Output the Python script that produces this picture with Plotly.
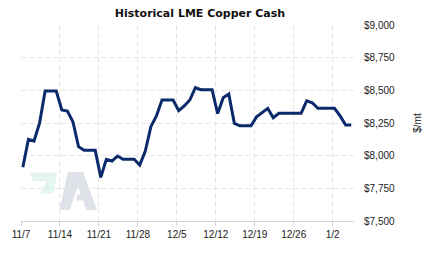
import pandas as pd
import plotly.graph_objects as go

start_date = "2022-11-07"
prices = [7911, 8125, 8112, 8248, 8495, 8495, 8495, 8350, 8342, 8260,
          8069, 8041, 8041, 8041, 7834, 7972, 7959, 7997, 7972, 7972,
          7972, 7928, 8036, 8222, 8304, 8426, 8426, 8426, 8344, 8380,
          8426, 8520, 8505, 8505, 8505, 8322, 8443, 8472, 8247, 8228,
          8228, 8228, 8298, 8330, 8362, 8290, 8324, 8324, 8324, 8324,
          8324, 8420, 8405, 8362, 8362, 8362, 8362, 8304, 8235, 8235]
tick_dates = ["2022-11-07", "2022-11-14", "2022-11-21", "2022-11-28", "2022-12-05",
              "2022-12-12", "2022-12-19", "2022-12-26", "2023-01-02"]
tick_labels = ["11/7", "11/14", "11/21", "11/28", "12/5", "12/12", "12/19", "12/26", "1/2"]
y_ticks = [7500, 7750, 8000, 8250, 8500, 8750, 9000]
y_labels = ["$7,500", "$7,750", "$8,000", "$8,250", "$8,500", "$8,750", "$9,000"]

dates = pd.date_range(start_date + " 08:00", periods=len(prices), freq="D")

fig = go.Figure()
fig.add_trace(go.Scatter(x=dates, y=prices, mode="lines",
                         line=dict(color="#0b2a6b", width=3), hoverinfo="skip"))

# watermark
fig.add_shape(type="path", xref="paper", yref="paper", layer="below",
              path="M 0.027 0.248 L 0.109 0.248 L 0.097 0.141 L 0.057 0.141 L 0.077 0.204 L 0.037 0.204 Z",
              fillcolor="#e3f6ef", line=dict(width=0))
fig.add_shape(type="path", xref="paper", yref="paper", layer="below",
              path="M 0.141 0.250 L 0.186 0.250 L 0.228 0.056 L 0.195 0.056 L 0.188 0.105 L 0.165 0.105 L 0.170 0.135 L 0.180 0.135 L 0.171 0.180 L 0.147 0.056 L 0.115 0.056 Z",
              fillcolor="#dfe2e9", line=dict(width=0))

fig.update_layout(
    width=423, height=257,
    margin=dict(l=21, r=69, t=25, b=36),
    paper_bgcolor="white", plot_bgcolor="white",
    showlegend=False,
    title=dict(text="<b>Historical LME Copper Cash</b>", x=200/423, xanchor="center",
               y=1 - 13/257, yanchor="middle", yref="container",
               font=dict(family="DejaVu Sans", size=11, color="#111")),
    font=dict(family="Liberation Sans", size=10, color="#222"),
    xaxis=dict(range=[pd.Timestamp("2022-11-07"), pd.Timestamp("2023-01-05 20:00")],
               tickvals=pd.to_datetime(tick_dates), ticktext=tick_labels,
               showgrid=True, gridcolor="#e6e6e6", griddash="5px,3px", gridwidth=1,
               showline=True, linecolor="#d6d6d6", linewidth=1,
               ticks="outside", ticklen=4, tickcolor="#d6d6d6", automargin=False,
               zeroline=False, tickfont=dict(size=10, color="#222")),
    yaxis=dict(range=[7500, 9000], side="right", tickvals=y_ticks, ticktext=y_labels,
               showgrid=True, gridcolor="#e6e6e6", griddash="5px,3px", gridwidth=1,
               zeroline=False, showline=False, ticks="", ticklabelstandoff=9,
               automargin=False,
               title=dict(text="$/mt", standoff=23, font=dict(size=10, color="#222")),
               tickfont=dict(size=10, color="#222")),
)

fig.write_html("out.html")
